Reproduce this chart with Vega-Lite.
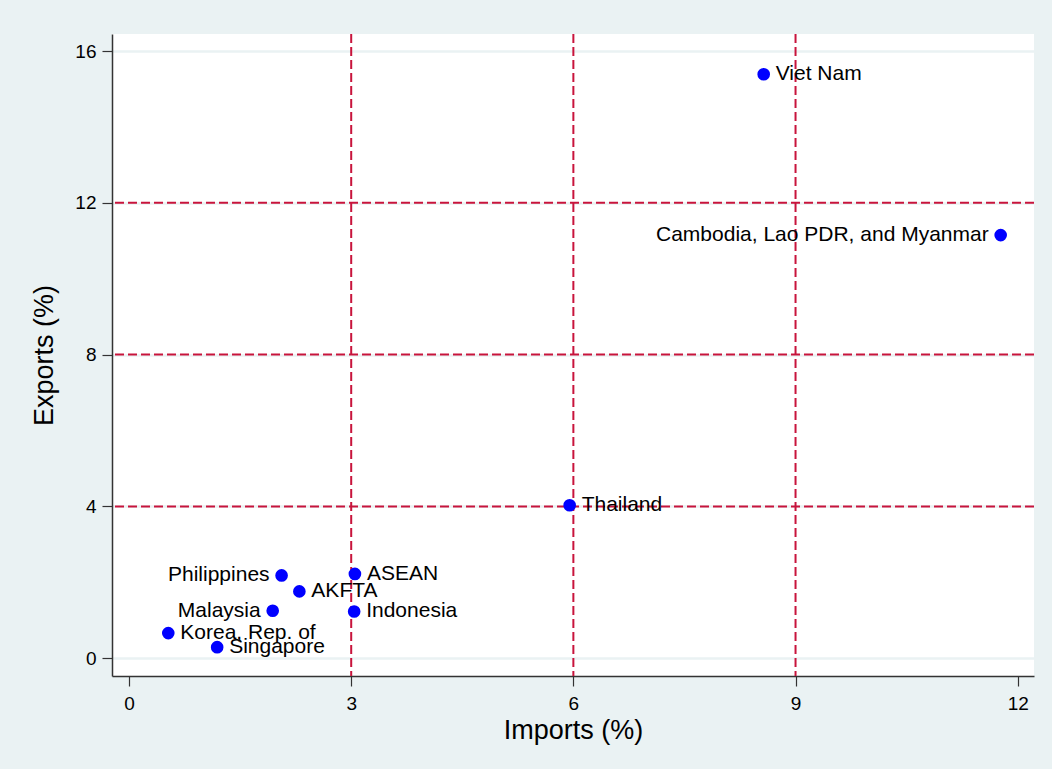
{
  "$schema": "https://vega.github.io/schema/vega-lite/v6.json",
  "autosize": "none",
  "width": 922,
  "height": 642,
  "padding": {"left": 112, "top": 34, "right": 18, "bottom": 93},
  "background": "#eaf2f3",
  "config": {
    "view": {"fill": "white", "stroke": null},
    "font": "Liberation Sans",
    "axis": {
      "labelFont": "Liberation Sans",
      "titleFont": "Liberation Sans",
      "labelFontSize": 19,
      "titleFontSize": 27,
      "titleFontWeight": "normal",
      "labelColor": "#000000",
      "titleColor": "#000000",
      "domainColor": "#333333",
      "domainWidth": 1.5,
      "tickColor": "#333333",
      "tickWidth": 1.2,
      "tickSize": 10,
      "gridColor": "#eaf2f3",
      "gridWidth": 2.5
    }
  },
  "datasets": {
    "points": [
      {"name": "Viet Nam", "imports": 8.57, "exports": 15.39},
      {"name": "Cambodia, Lao PDR, and Myanmar", "imports": 11.77, "exports": 11.15},
      {"name": "Thailand", "imports": 5.95, "exports": 4.03},
      {"name": "Philippines", "imports": 2.06, "exports": 2.18},
      {"name": "ASEAN", "imports": 3.05, "exports": 2.22},
      {"name": "AKFTA", "imports": 2.3, "exports": 1.76},
      {"name": "Malaysia", "imports": 1.94, "exports": 1.25},
      {"name": "Indonesia", "imports": 3.04, "exports": 1.23},
      {"name": "Korea, Rep. of", "imports": 0.53, "exports": 0.66},
      {"name": "Singapore", "imports": 1.19, "exports": 0.29}
    ],
    "vlines": [{"imports": 3}, {"imports": 6}, {"imports": 9}],
    "hlines": [{"exports": 4}, {"exports": 8}, {"exports": 12}]
  },
  "layer": [
    {
      "data": {"name": "points"},
      "mark": {"type": "point", "opacity": 0},
      "encoding": {
        "x": {
          "field": "imports", "type": "quantitative",
          "scale": {"domain": [-0.23, 12.22], "nice": false, "zero": false},
          "axis": {"values": [0, 3, 6, 9, 12], "format": "d", "grid": false, "title": "Imports (%)", "labelPadding": 8, "titlePadding": 4}
        },
        "y": {
          "field": "exports", "type": "quantitative",
          "scale": {"domain": [-0.47, 16.45], "nice": false, "zero": false},
          "axis": {"values": [0, 4, 8, 12, 16], "format": "d", "grid": true, "title": "Exports (%)", "labelPadding": 6, "titlePadding": 16}
        }
      }
    },
    {
      "data": {"name": "vlines"},
      "mark": {"type": "rule", "color": "#c8143c", "strokeWidth": 2, "strokeDash": [9, 4]},
      "encoding": {"x": {"field": "imports", "type": "quantitative"}}
    },
    {
      "data": {"name": "hlines"},
      "mark": {"type": "rule", "color": "#c8143c", "strokeWidth": 2, "strokeDash": [9, 4]},
      "encoding": {"y": {"field": "exports", "type": "quantitative"}}
    },
    {
      "data": {"name": "points"},
      "mark": {"type": "circle", "color": "#0000ff", "opacity": 1, "size": 160},
      "encoding": {
        "x": {"field": "imports", "type": "quantitative"},
        "y": {"field": "exports", "type": "quantitative"}
      }
    },
    {
      "data": {"name": "points"},
      "transform": [{"filter": {"not": {"field": "name", "oneOf": ["Philippines", "Malaysia", "Cambodia, Lao PDR, and Myanmar"]}}}],
      "mark": {"type": "text", "align": "left", "baseline": "middle", "dx": 12, "fontSize": 21, "color": "#000000"},
      "encoding": {
        "x": {"field": "imports", "type": "quantitative"},
        "y": {"field": "exports", "type": "quantitative"},
        "text": {"field": "name"}
      }
    },
    {
      "data": {"name": "points"},
      "transform": [{"filter": {"field": "name", "oneOf": ["Philippines", "Malaysia", "Cambodia, Lao PDR, and Myanmar"]}}],
      "mark": {"type": "text", "align": "right", "baseline": "middle", "dx": -12, "fontSize": 21, "color": "#000000"},
      "encoding": {
        "x": {"field": "imports", "type": "quantitative"},
        "y": {"field": "exports", "type": "quantitative"},
        "text": {"field": "name"}
      }
    }
  ]
}
